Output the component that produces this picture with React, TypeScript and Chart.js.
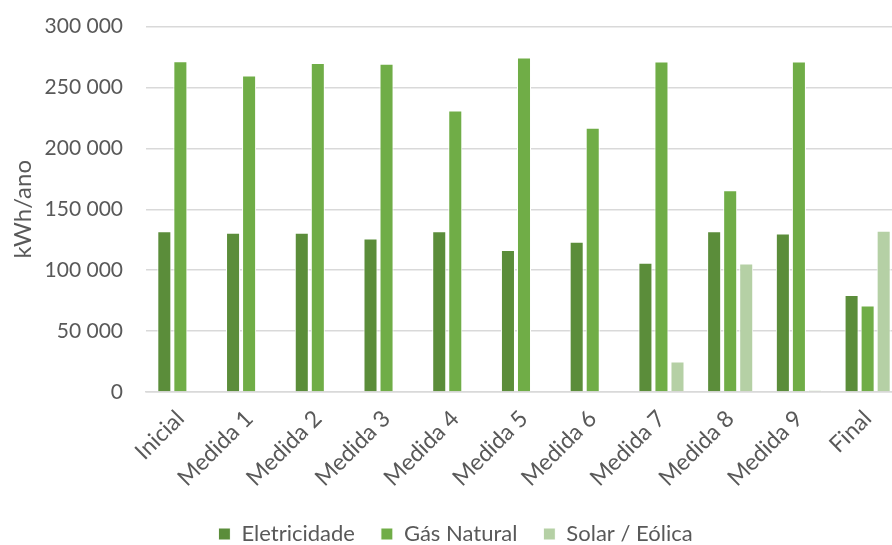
import React, { useEffect, useRef } from "react";
import { Chart, registerables } from "chart.js";

Chart.register(...registerables);

const categories = ["Inicial", "Medida 1", "Medida 2", "Medida 3", "Medida 4", "Medida 5", "Medida 6", "Medida 7", "Medida 8", "Medida 9", "Final"];
const eletricidade = [132000, 130800, 130800, 126100, 132000, 116600, 123400, 106200, 132000, 130200, 79700];
const gasNatural = [271600, 259900, 270200, 269400, 231200, 274600, 217000, 271300, 165700, 271300, 71000];
const solarEolica = [0, 0, 0, 0, 0, 0, 0, 25100, 105400, 1400, 132400];
const yTicksMax = 300000;
const yStep = 50000;

const FONT = "Lato, 'Open Sans', sans-serif";
const TEXT = "#595959";

function fmt(v: number): string {
  return Math.round(v).toString().replace(/\B(?=(\d{3})+(?!\d))/g, " ");
}

export default function App() {
  const ref = useRef<HTMLCanvasElement | null>(null);
  useEffect(() => {
    if (!ref.current) return;
    const common = { borderColor: "#ffffff", borderWidth: 1, categoryPercentage: 0.7, barPercentage: 0.875 };
    const chart = new Chart(ref.current, {
      type: "bar",
      data: {
        labels: categories,
        datasets: [
          { label: "Eletricidade", data: eletricidade, backgroundColor: "#5B8D3A", ...common },
          { label: "Gás Natural", data: gasNatural, backgroundColor: "#70AD47", ...common },
          { label: "Solar / Eólica", data: solarEolica, backgroundColor: "#B5D0A5", ...common },
        ],
      },
      options: {
        animation: false,
        responsive: false,
        layout: { padding: { top: 10, right: 8, bottom: -10, left: 9 } },
        plugins: {
          tooltip: { enabled: false },
          legend: {
            position: "bottom",
            labels: {
              boxWidth: 12,
              boxHeight: 12,
              padding: 26,
              color: TEXT,
              font: { family: FONT, size: 22 },
            },
          },
        },
        scales: {
          x: {
            grid: { display: false },
            border: { color: "#D9D9D9", width: 1.5 },
            ticks: {
              color: TEXT,
              font: { family: FONT, size: 23 },
              minRotation: 45,
              maxRotation: 45,
              autoSkip: false,
              padding: 5,
            },
            afterFit: (s: any) => {
              s.height = 105;
            },
          },
          y: {
            min: 0,
            max: yTicksMax,
            grid: { color: "#D9D9D9", lineWidth: 1.5, drawTicks: true, tickLength: 9, tickColor: "rgba(0,0,0,0)" },
            border: { display: false },
            ticks: {
              stepSize: yStep,
              color: TEXT,
              padding: 14,
              font: { family: FONT, size: 21 },
              callback: (v: any) => fmt(Number(v)),
            },
            title: {
              display: true,
              text: "kWh/ano",
              color: TEXT,
              font: { family: FONT, size: 24 },
              padding: { top: 0, bottom: 0 },
            },
            afterFit: (s: any) => {
              s.width = 137;
            },
          },
        },
      },
    });
    return () => chart.destroy();
  }, []);
  return (
    <div style={{ position: "absolute", left: 0, top: 0, width: 892, height: 545, overflow: "hidden", background: "#fff" }}>
      <canvas ref={ref} width={910} height={545} style={{ display: "block" }} />
    </div>
  );
}
